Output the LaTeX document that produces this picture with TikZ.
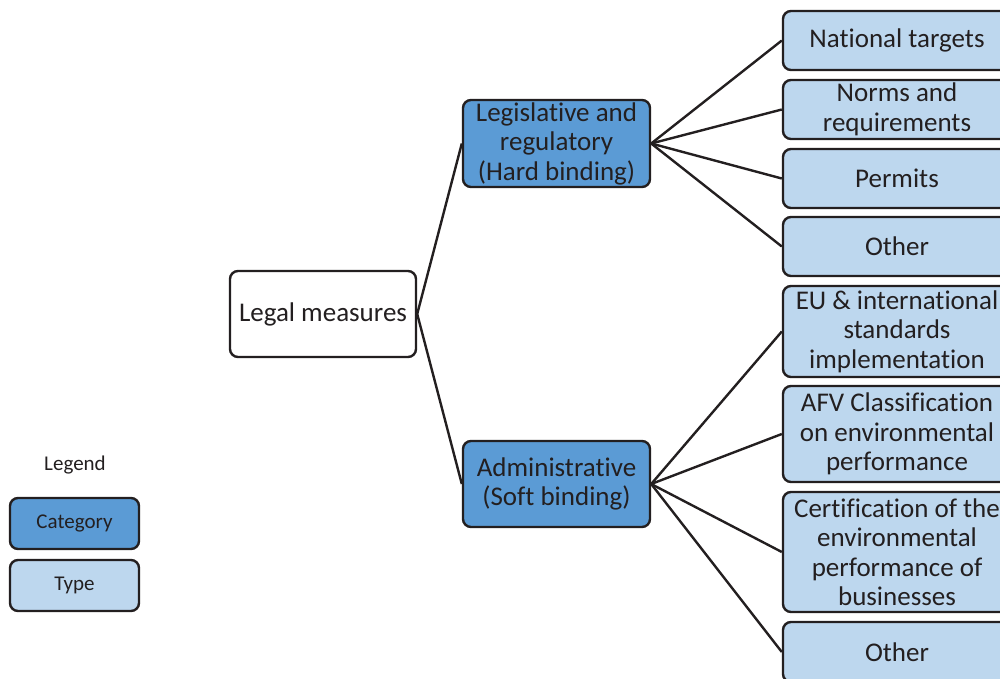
\documentclass[tikz,border=0pt]{standalone}
\usepackage{fontspec}
\setmainfont[RawFeature=-liga]{Carlito}
\definecolor{catblue}{HTML}{5B9BD5}
\definecolor{typeblue}{HTML}{BDD7EE}
\definecolor{edgegray}{HTML}{231F20}
\begin{document}
\begin{tikzpicture}[x=1pt,y=-1pt,
  box/.style={draw=edgegray, line width=2.4pt, rounded corners=8pt, align=center,
    font=\fontsize{27}{29.5}\selectfont, text=edgegray, inner sep=0pt},
  cat/.style={box, fill=catblue},
  typ/.style={box, fill=typeblue, minimum width=228, minimum height=59},
  root/.style={box, fill=white},
  conn/.style={draw=edgegray, line width=2.4pt},
  legcat/.style={box, fill=catblue, minimum width=129, minimum height=51, font=\fontsize{21}{24}\selectfont},
  legtyp/.style={box, fill=typeblue, minimum width=129, minimum height=51, font=\fontsize{21}{24}\selectfont}]
\useasboundingbox (0,0) rectangle (1000,679);
\node[root, minimum width=186, minimum height=86] (root) at (323,314) {Legal measures};
\node[cat, minimum width=187, minimum height=87] (leg) at (556.5,143.5) {Legislative and\\regulatory\\(Hard binding)};
\node[cat, minimum width=187, minimum height=86] (adm) at (556.5,484) {Administrative\\(Soft binding)};
\node[typ] (t1) at (897,40.5) {National targets};
\node[typ] (t2) at (897,109.5) {Norms and\\requirements};
\node[typ] (t3) at (897,178.5) {Permits};
\node[typ] (t4) at (897,246.5) {Other};
\node[typ, minimum height=91] (t5) at (897,331.5) {EU \& international\\standards\\implementation};
\node[typ, minimum height=96] (t6) at (897,434) {AFV Classification\\on environmental\\performance};
\node[typ, minimum height=120] (t7) at (897,552) {Certification of the\\environmental\\performance of\\businesses};
\node[typ, minimum height=60] (t8) at (897,652) {Other};
\draw[conn] (root.east) -- (leg.west);
\draw[conn] (root.east) -- (adm.west);
\foreach \t in {t1,t2,t3,t4} \draw[conn] (leg.east) -- (\t.west);
\foreach \t in {t5,t6,t7,t8} \draw[conn] (adm.east) -- (\t.west);
\node[font=\fontsize{21}{24}\selectfont, text=edgegray] (legend) at (75,465) {Legend};
\node[legcat] (lc) at (74.5,523.5) {Category};
\node[legtyp] (lt) at (74.5,585.5) {Type};
\end{tikzpicture}
\end{document}
